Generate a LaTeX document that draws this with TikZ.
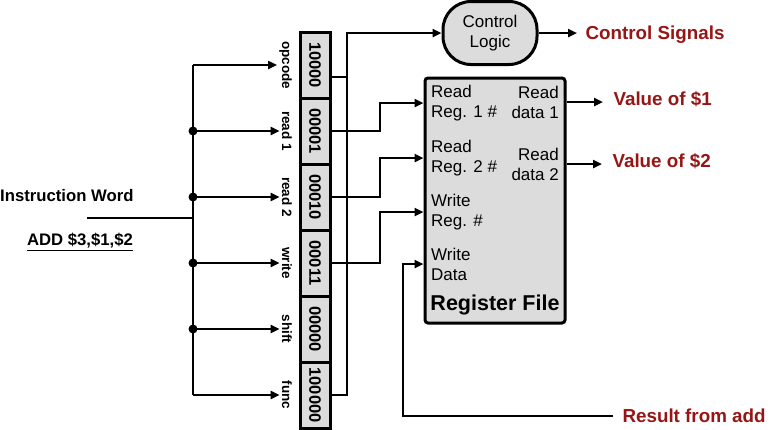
\documentclass[tikz,border=0pt]{standalone}
\usepackage{fontspec}
\setmainfont{Liberation Sans}
\usetikzlibrary{arrows.meta,positioning,calc}
\definecolor{signalred}{RGB}{150,22,22}
\definecolor{boxgray}{RGB}{220,220,220}

\begin{document}
\begin{tikzpicture}[x=1pt, y=1pt, >={Triangle[length=9pt,width=8pt]},
    field/.style={rectangle, draw, line width=3pt, fill=boxgray, minimum width=30pt, minimum height=66pt, inner sep=0pt, outer sep=0pt, font=\fontsize{16.5}{18}\selectfont\bfseries},
    tag/.style={inner sep=2pt, font=\fontsize{13.5}{15}\selectfont\bfseries},
    wire/.style={line width=2.7pt},
    port/.style={inner sep=0pt, align=left, font=\fontsize{17}{20}\selectfont},
    outlabel/.style={anchor=west, text=signalred, font=\fontsize{18.8}{21}\selectfont\bfseries}]
    \useasboundingbox (0,0) rectangle (770,-429);

    % instruction fields
    \node [field] (opcode) at (315,-65) {\rotatebox{-90}{10000}};
    \node [field, below=0pt of opcode] (read1) {\rotatebox{-90}{00001}};
    \node [field, below=0pt of read1] (read2) {\rotatebox{-90}{00010}};
    \node [field, below=0pt of read2] (write) {\rotatebox{-90}{00011}};
    \node [field, below=0pt of write] (shift) {\rotatebox{-90}{00000}};
    \node [field, below=0pt of shift] (func) {\rotatebox{-90}{100000}};
    \node [tag, left=6pt of opcode] (opcodetag) {\rotatebox{-90}{opcode}};
    \node [tag, left=6pt of read1] (read1tag) {\rotatebox{-90}{read 1}};
    \node [tag, left=6pt of read2] (read2tag) {\rotatebox{-90}{read 2}};
    \node [tag, left=6pt of write] (writetag) {\rotatebox{-90}{write}};
    \node [tag, left=6pt of shift] (shifttag) {\rotatebox{-90}{shift}};
    \node [tag, left=6pt of func] (functag) {\rotatebox{-90}{func}};

    % instruction word and bus
    \node [anchor=west, inner sep=0pt, font=\fontsize{16.7}{18}\selectfont\bfseries] (instr) at (0,-196) {Instruction Word};
    \node [font=\fontsize{16.7}{18}\selectfont\bfseries] (asm) at (80,-242) {\underline{ADD \$3,\$1,\$2}};
    \coordinate (instrend) at (87,-218);
    \coordinate (bus) at (193,0);
    \draw [wire] (instrend) -- (instrend -| bus);
    \draw [wire] (opcodetag.west -| bus) -- (functag.west -| bus);
    \draw [wire, ->] (opcodetag.west -| bus) -- (opcodetag.west);
    \draw [wire, ->] (read1tag.west -| bus) -- (read1tag.west);
    \draw [wire, ->] (read2tag.west -| bus) -- (read2tag.west);
    \draw [wire, ->] (writetag.west -| bus) -- (writetag.west);
    \draw [wire, ->] (shifttag.west -| bus) -- (shifttag.west);
    \draw [wire, ->] (functag.west -| bus) -- (functag.west);
    \fill (read1tag.west -| bus) circle (4.5pt);
    \fill (read2tag.west -| bus) circle (4.5pt);
    \fill (writetag.west -| bus) circle (4.5pt);
    \fill (shifttag.west -| bus) circle (4.5pt);

    % control logic
    \node [rectangle, rounded corners=28pt, draw, line width=3pt, fill=boxgray, minimum width=94pt, minimum height=63pt, align=center, font=\fontsize{17}{20}\selectfont] (control) at (490,-33) {Control\\Logic};
    \node [outlabel] (signals) at (582,-35) {Control Signals};
    \coordinate (rbus) at (347,0);
    \coordinate (opout) at ([yshift=-12pt]opcode.east);
    \draw [wire] (opout) -- (opout -| rbus);
    \draw [wire, ->] (func.east) -| (rbus |- control.west) -- (control.west);
    \draw [wire, ->, shorten >=5pt] (control.east) -- (control.east -| signals.west);

    % register file
    \node [rectangle, draw, line width=3pt, fill=boxgray, rounded corners=3pt, minimum width=140pt, minimum height=245pt] (regfile) at (495,-200.5) {};
    \node [font=\fontsize{21.5}{24}\selectfont\bfseries] (regtitle) at (495,-305) {Register File};
    \node [port, anchor=west] (rreg1) at (431,-103) {Read\\Reg. 1 \#};
    \node [port, anchor=east, align=right] (rdata1) at (559,-102) {Read\\data 1};
    \node [port, anchor=west] (rreg2) at (431,-158) {Read\\Reg. 2 \#};
    \node [port, anchor=east, align=right] (rdata2) at (559,-164) {Read\\data 2};
    \node [port, anchor=west] (wreg) at (431,-212) {Write\\Reg. \#};
    \node [port, anchor=west] (wdata) at (431,-264) {Write\\Data};

    \coordinate (jog) at (380,0);
    \draw [wire, ->] (read1.east) -- (read1.east -| jog) |- (regfile.west |- rreg1.west);
    \draw [wire, ->] (read2.east) -- (read2.east -| jog) |- (regfile.west |- rreg2.west);
    \draw [wire, ->] (write.east) -- (write.east -| jog) |- (regfile.west |- wreg.west);

    \node [outlabel] (value1) at (610,-99) {Value of \$1};
    \node [outlabel] (value2) at (609,-161) {Value of \$2};
    \draw [wire, ->, shorten >=7pt] (regfile.east |- rdata1.east) -- (value1.west |- rdata1.east);
    \draw [wire, ->, shorten >=7pt] (regfile.east |- rdata2.east) -- (value2.west |- rdata2.east);

    \node [outlabel] (result) at (619,-416) {Result from add};
    \coordinate (wdjog) at (403,0);
    \draw [wire, ->, shorten <=6pt] (result.west) -| (wdjog |- wdata.west) -- (regfile.west |- wdata.west);
\end{tikzpicture}
\end{document}
